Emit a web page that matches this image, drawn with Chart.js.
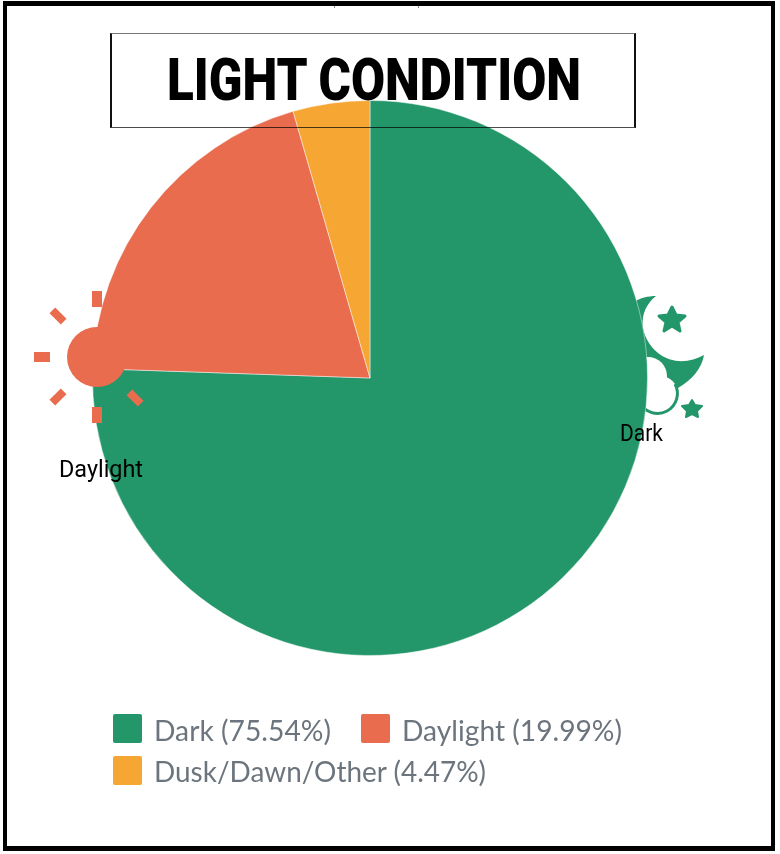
<!DOCTYPE html>
<html>
<head>
<meta charset="utf-8">
<script src="https://cdn.jsdelivr.net/npm/chart.js@4"></script>
<style>
html,body{margin:0;padding:0;background:#fff;}
#stage{position:relative;width:780px;height:854px;overflow:hidden;background:#fff;}
#stage>*{position:absolute;}
#frame{left:3px;top:1px;width:764px;height:840px;border-style:solid;border-color:#000;border-width:5px 4px;z-index:6;}
#moon{left:0;top:0;z-index:1;}
#c{left:0;top:0;z-index:2;}
#sun{left:0;top:0;z-index:3;}
#box{left:110px;top:33px;width:522px;height:93px;border-top:1px solid #777;border-bottom:1px solid rgba(0,0,0,.7);border-left:2px solid #111;border-right:2px solid #111;z-index:4;}
#title{left:167px;top:41px;font:900 60px Roboto,sans-serif;line-height:78px;color:#000;white-space:nowrap;transform-origin:0 0;z-index:5;}
.lab{font:400 23px Roboto,sans-serif;line-height:28px;color:#000;white-space:nowrap;transform-origin:0 0;z-index:5;}
.sw{width:29px;height:29px;border-radius:2px;z-index:5;}
.lg{font:400 28.2px Lato,sans-serif;line-height:30px;color:#6c757d;white-space:nowrap;transform-origin:0 0;z-index:5;}
</style>
</head>
<body>
<div id="stage">
<svg id="moon" width="780" height="854" viewBox="0 0 780 854">
  <path fill="#23966A" d="M656,296 C648,296 640,298 634,302 L640,380 L678,388 C692,380 702,368 704,355 C690,363 672,364 658,353 C640,338 636,312 656,296 Z"/>
  <circle cx="648" cy="376" r="19" fill="#fff"/>
  <circle cx="660" cy="394" r="18" fill="#fff"/>
  <path fill="none" stroke="#23966A" stroke-width="3" d="M675,384 A18,18 0 1 1 640,403"/>
  <path fill="#23966A" stroke="#23966A" stroke-width="3" stroke-linejoin="round" d="M672,307 L676,315 L685,316 L678,322 L680,331 L672,326 L664,331 L666,322 L659,316 L668,315 Z"/>
  <path fill="#23966A" stroke="#23966A" stroke-width="2" stroke-linejoin="round" d="M692,400 L695,405 L702,406 L697,411 L698,417 L692,414 L686,417 L687,411 L682,406 L689,405 Z"/>
</svg>
<canvas id="c" width="780" height="854" style="width:780px;height:854px"></canvas>
<svg id="sun" width="780" height="854" viewBox="0 0 780 854">
  <g fill="#E96C4F">
    <circle cx="97" cy="357" r="30"/>
    <rect x="92" y="291" width="10" height="16"/>
    <rect x="92" y="407" width="10" height="16"/>
    <rect x="34" y="352" width="16" height="10"/>
    <rect x="50" y="312" width="16" height="8" transform="rotate(45 58 316)"/>
    <rect x="50" y="393" width="16" height="8" transform="rotate(-45 58 397)"/>
    <rect x="127" y="394" width="16" height="8" transform="rotate(45 135 398)"/>
  </g>
  <rect x="334" y="6" width="1" height="2" fill="#888"/>
  <rect x="418" y="6" width="1" height="2" fill="#888"/>
</svg>
<div id="box"></div>
<div id="title"></div>
<div id="frame"></div>
</div>
<script>
const titleText = "LIGHT CONDITION";
const categories = ["Dark", "Daylight", "Dusk/Dawn/Other"];
const shares = [75.54, 19.99, 4.47];
const colors = ["#23966A", "#E96C4F", "#F6A733"];
const iconLabels = ["Daylight", "Dark"];

const stage = document.getElementById('stage');
const titleEl = document.getElementById('title');
titleEl.textContent = titleText;

function fit(el, w){ el.style.transform = 'none'; el.style.transform = 'scaleX(' + (w / el.getBoundingClientRect().width) + ')'; }

function add(cls, css, text){
  const d = document.createElement('div');
  d.className = cls; d.style.cssText = css;
  if (text) d.textContent = text;
  stage.appendChild(d); return d;
}
const legendPos = [[113,714],[361,714],[113,756]];
const legendWidths = [177, 220, 332];
const legendEls = categories.map((c,i)=>{
  const [x,y] = legendPos[i];
  add('sw', `left:${x}px;top:${y}px;background:${colors[i]}`);
  return add('lg', `left:${x+41}px;top:${y+(i===2?0:1)}px`, `${c} (${shares[i].toFixed(2)}%)`);
});
const lab1 = add('lab','left:59px;top:456px',iconLabels[0]);
const lab2 = add('lab','left:620px;top:420px',iconLabels[1]);

function finish(){
  fit(titleEl, 414); fit(lab1, 84); fit(lab2, 43);
  legendEls.forEach((e,i)=>fit(e, legendWidths[i]));
}
finish();
if (document.fonts && document.fonts.ready) document.fonts.ready.then(finish);

new Chart(document.getElementById('c'), {
  type: 'pie',
  data: { labels: categories, datasets: [{ data: shares, backgroundColor: colors, borderColor: 'rgba(255,255,255,0.45)', borderWidth: 1 }] },
  options: {
    responsive: false,
    animation: false,
    layout: { padding: { left: 92, right: 132, top: 100, bottom: 198 } },
    plugins: { legend: { display: false }, title: { display: false }, tooltip: { enabled: false } }
  }
});
</script>
</body>
</html>
